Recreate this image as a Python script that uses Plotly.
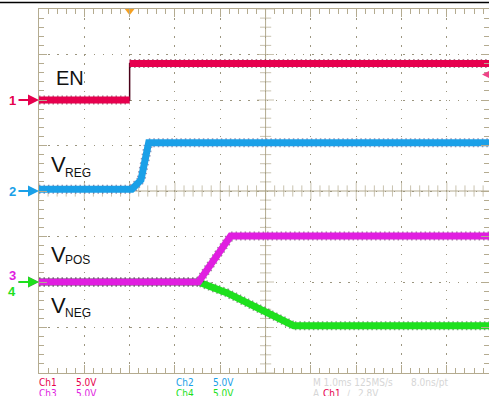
import numpy as np
import plotly.graph_objects as go

# ---- data (time in ms relative to trigger, volts) ----
en_t = [-2.0, 0.0, 0.0, 7.93]
en_v = [0.0, 0.0, 4.0, 4.0]

vreg_t = [-2.0, 0.05, 0.25, 0.42, 7.93]
vreg_v = [0.2, 0.2, 1.2, 5.3, 5.3]

vpos_t = [-2.0, 1.52, 2.23, 7.93]
vpos_v = [0.0, 0.0, 5.05, 5.05]

vneg_t = [-2.0, 1.52, 2.15, 3.05, 3.62, 7.93]
vneg_v = [0.0, 0.0, -1.2, -3.4, -4.8, -4.8]

volts_per_div = 5.0
offsets = {"1": 2.0, "2": 0.0, "3": -2.0, "4": -2.0}   # channel ground, in divisions
trig_level = 2.8   # V on Ch1
t_range = [-2.0, 7.93]

C1, C2, C3, C4 = "#e6004e", "#1aa0e8", "#e01ee0", "#1ee01e"
D1, D2, D3, D4 = "#4a0018", "#3a2a6a", "#3a1038", "#0a3a0a"
GRID = "#b4ab90"
DOT = "#9c9680"

def scale(v, ch):
    return [offsets[ch] + x / volts_per_div for x in v]

fig = go.Figure()

# graticule centre lines and tick marks
fig.add_shape(type="line", x0=3, x1=3, y0=-4, y1=4, line=dict(color=GRID, width=1), layer="below")
fig.add_shape(type="line", x0=t_range[0], x1=t_range[1], y0=0, y1=0, line=dict(color=GRID, width=1), layer="below")
xt = np.round(np.arange(-2, 7.94, 0.2), 3)
yt = np.round(np.arange(-4, 4.01, 0.2), 3)
fig.add_trace(go.Scatter(x=xt, y=[0] * len(xt), mode="markers", hoverinfo="skip",
                         marker=dict(symbol="line-ns", size=[12 if abs(v - round(v)) < 1e-6 else 8 for v in xt],
                                     line=dict(color=GRID, width=1)), showlegend=False))
fig.add_trace(go.Scatter(x=[3] * len(yt), y=yt, mode="markers", hoverinfo="skip",
                         marker=dict(symbol="line-ew", size=[12 if abs(v - round(v)) < 1e-6 else 8 for v in yt],
                                     line=dict(color=GRID, width=1)), showlegend=False))

def add_wave(t, y, col, dark):
    # dark noise speckles under the thick trace
    fig.add_trace(go.Scatter(x=t, y=y, mode="lines", hoverinfo="skip", opacity=0.5,
                             line=dict(color=dark, width=9, dash="1.5px,3px"), showlegend=False))
    fig.add_trace(go.Scatter(x=t, y=y, mode="lines", line=dict(color=col, width=7), showlegend=False))

add_wave(vneg_t, scale(vneg_v, "4"), C4, D4)
add_wave(vpos_t, scale(vpos_v, "3"), C3, D3)
add_wave(vreg_t, scale(vreg_v, "2"), C2, D2)
fig.add_trace(go.Scatter(x=en_t, y=scale(en_v, "1"), mode="lines",
                         line=dict(color="#4a0018", width=1.5), showlegend=False))
add_wave(en_t[:2], scale(en_v[:2], "1"), C1, D1)
add_wave(en_t[2:], scale(en_v[2:], "1"), C1, D1)

# trigger position marker
fig.add_trace(go.Scatter(x=[0], y=[3.96], mode="markers", cliponaxis=False, hoverinfo="skip",
                         marker=dict(symbol="triangle-down", size=9, color="#f5a020"), showlegend=False))

ann = []
def px_x(p):
    return (p - 39) / 450.0
def px_y(p):
    return (373 - p) / 364.0

# channel ground arrows
for ch, col in (("1", C1), ("2", C2), ("3", C3), ("4", C4)):
    ann.append(dict(x=0, xref="paper", y=offsets[ch], yref="y", ax=-22, ay=0, text="",
                    showarrow=True, arrowhead=2, arrowsize=1.1, arrowwidth=2, arrowcolor=col, standoff=0))
for ch, col, py in (("1", C1, 100), ("2", C2, 191), ("3", C3, 275), ("4", C4, 291)):
    ann.append(dict(x=px_x(12), xref="paper", y=px_y(py), yref="paper", text="<b>" + ch + "</b>",
                    xanchor="center", yanchor="middle",
                    showarrow=False, font=dict(size=13, color=col, family="Liberation Sans, Arial")))
# trigger level arrow
ann.append(dict(x=px_x(482), xref="paper", y=offsets["1"] + trig_level / volts_per_div, yref="y",
                ax=10, ay=0, text="", showarrow=True, arrowhead=2, arrowsize=1, arrowwidth=1.5,
                arrowcolor="#ee4488", standoff=0))

# signal labels
LF = "Liberation Sans, Arial"
ann.append(dict(x=px_x(54), xref="paper", y=px_y(78), yref="paper", text="EN",
                xanchor="left", yanchor="middle",
                showarrow=False, font=dict(size=20, color="#111111", family=LF)))
for main_y, sub, sub_y in ((164, "REG", 173), (254, "POS", 260), (305, "NEG", 313)):
    ann.append(dict(x=px_x(49), xref="paper", y=px_y(main_y), yref="paper", text="V",
                    xanchor="left", yanchor="middle",
                    showarrow=False, font=dict(size=22, color="#111111", family=LF)))
    ann.append(dict(x=px_x(63), xref="paper", y=px_y(sub_y), yref="paper", text=sub,
                    xanchor="left", yanchor="middle",
                    showarrow=False, font=dict(size=12, color="#111111", family=LF)))

# bottom readout
SF = "Liberation Sans Narrow, Arial Narrow, DejaVu Sans Condensed, sans-serif"
FAINT = "#d6d6d6"
for txt, x, y, col in (("Ch1", 37, 383, C1), ("5.0V", 74, 383, C1),
                       ("Ch3", 37, 393, C3), ("5.0V", 74, 393, C3),
                       ("Ch2", 174, 383, C2), ("5.0V", 211, 383, C2),
                       ("Ch4", 174, 393, C4), ("5.0V", 211, 393, C4),
                       ("M 1.0ms 125MS/s", 311, 383, FAINT), ("8.0ns/pt", 409, 383, FAINT),
                       ("A", 311, 393, FAINT), ("Ch1", 321, 393, C1),
                       ("\u2215", 345, 393, FAINT), ("2.8V", 356, 393, FAINT)):
    ann.append(dict(x=px_x(x), xref="paper", y=px_y(y), yref="paper", text=txt, xanchor="left",
                    yanchor="middle", showarrow=False, font=dict(size=10, color=col, family=SF)))

fig.add_shape(type="line", xref="paper", yref="paper", x0=-39 / 450, x1=1.0,
              y0=1 + 6.5 / 364, y1=1 + 6.5 / 364, line=dict(color="black", width=1.5))

axis_common = dict(showgrid=True, gridcolor=DOT, gridwidth=1, showline=True, linecolor=GRID,
                   linewidth=1, mirror="ticks", ticks="inside", ticklen=8, tickcolor=GRID,
                   showticklabels=False, zeroline=False, dtick=1, tick0=0,
                   minor=dict(dtick=0.2, ticks="inside", ticklen=5, tickcolor=GRID, showgrid=False))
fig.update_xaxes(range=t_range, griddash="1.5px,7.56px", **axis_common)
fig.update_yaxes(range=[-4, 4], griddash="1.5px,7.6px", **axis_common)

fig.update_layout(width=489, height=396, margin=dict(l=39, r=0, t=9, b=23),
                  plot_bgcolor="white", paper_bgcolor="white", annotations=ann, showlegend=False)

fig.write_html("out.html", config={"displayModeBar": False},
               post_script="document.body.style.margin='0';")
